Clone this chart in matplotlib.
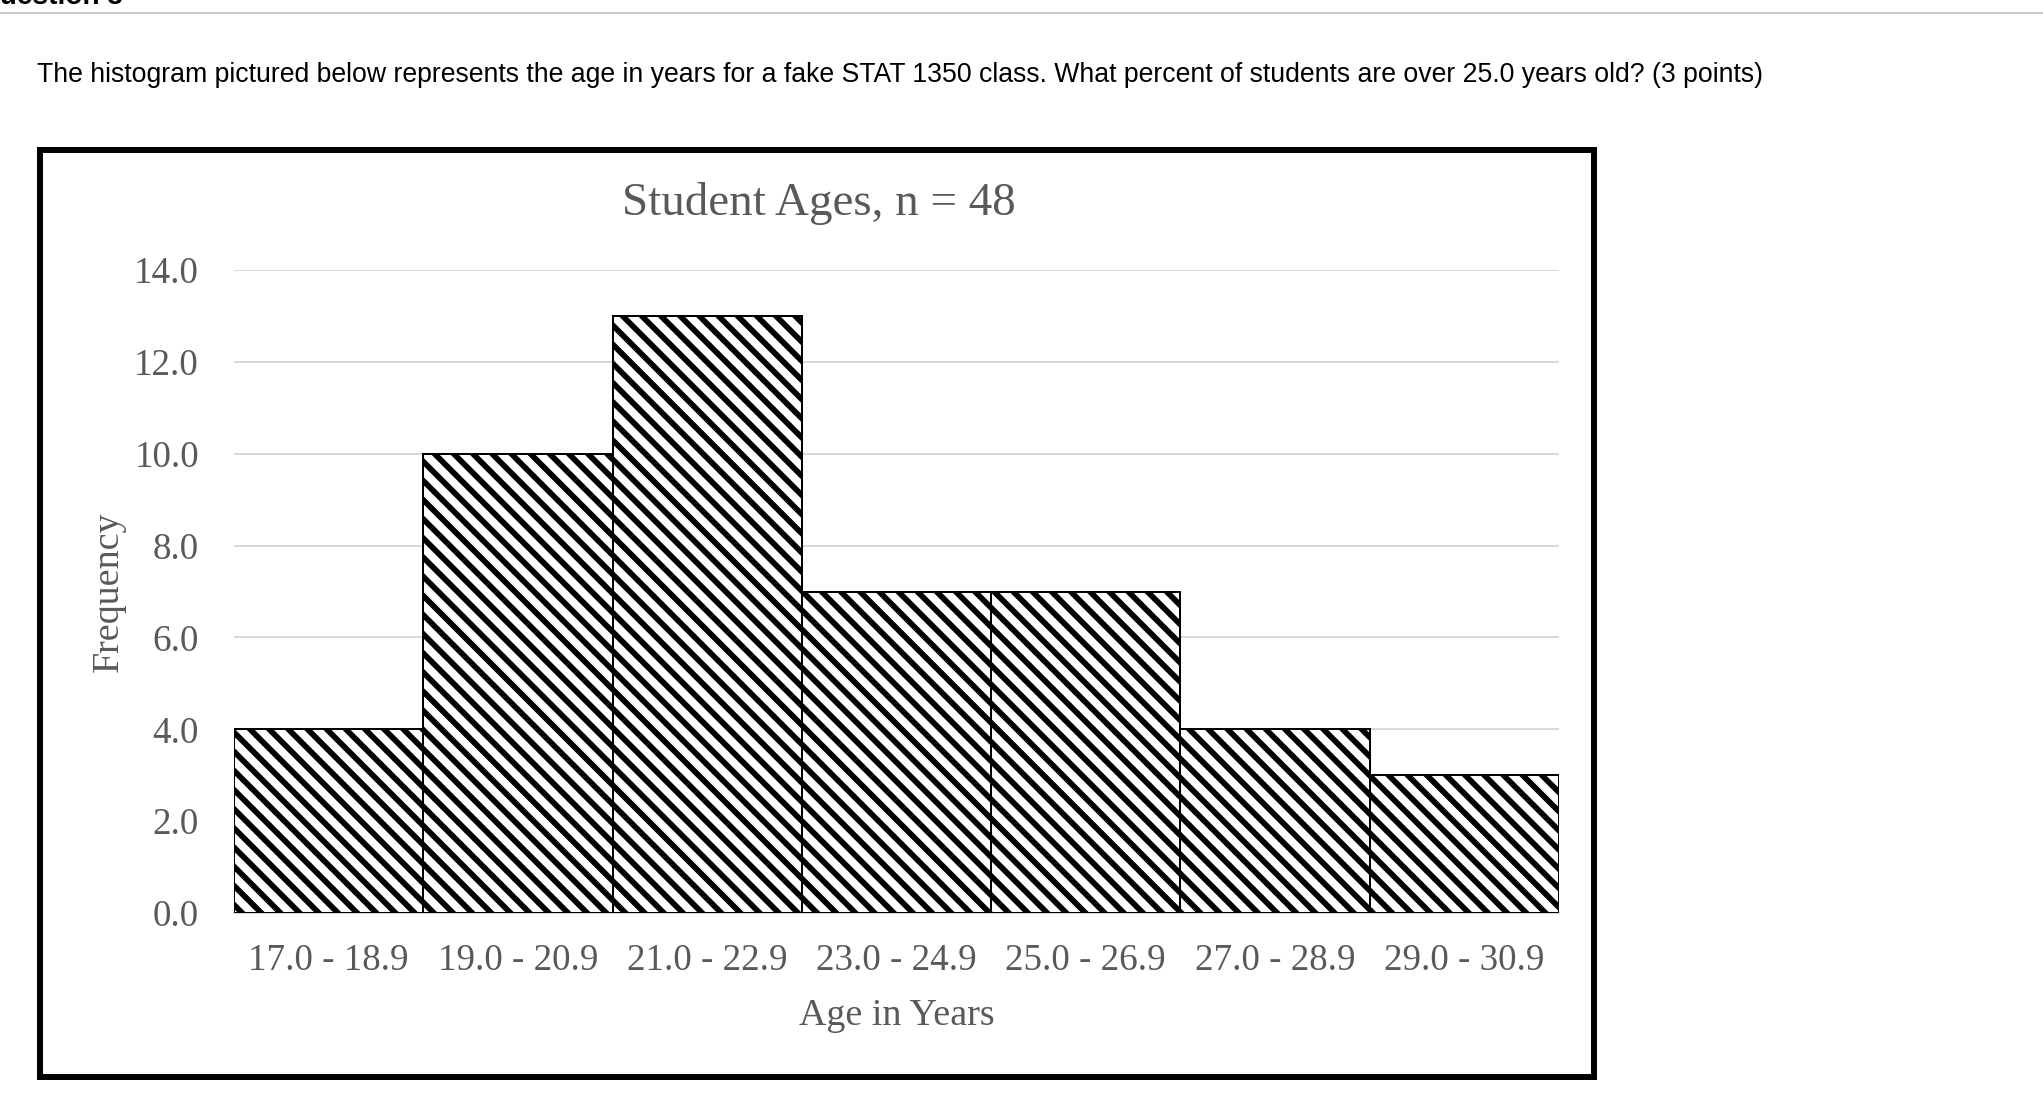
import matplotlib
matplotlib.use("Agg")
import matplotlib.pyplot as plt
from matplotlib.patches import Rectangle
from matplotlib.lines import Line2D

# histogram data
age_bins = ['17.0 - 18.9', '19.0 - 20.9', '21.0 - 22.9', '23.0 - 24.9',
            '25.0 - 26.9', '27.0 - 28.9', '29.0 - 30.9']
frequency = [4, 10, 13, 7, 7, 4, 3]
y_ticks = [0, 2, 4, 6, 8, 10, 12, 14]

question = ("The histogram pictured below represents the age in years for a fake "
            "STAT 1350 class. What percent of students are over 25.0 years old? (3 points)")

W, H, DPI = 2044, 1094, 115
PT = 72.0 / DPI  # points per pixel

plt.rcParams['hatch.linewidth'] = 3.6
gray = '#595959'
serif = 'Liberation Serif'

fig = plt.figure(figsize=(W / DPI, H / DPI), dpi=DPI)
fig.patch.set_facecolor('white')


def fx(px):
    return px / W


def fy(py):
    return 1 - py / H


# page header bits
fig.text(fx(-22), fy(4), 'Question 3', family='Liberation Sans', weight='bold',
         fontsize=28 * PT, color='black', va='baseline', ha='left')
fig.add_artist(Line2D([0, 1], [fy(13), fy(13)], color='#c8c8c8', lw=2 * PT))
fig.text(fx(37), fy(82), question, family='Liberation Sans', fontsize=26.6 * PT,
         color='black', va='baseline', ha='left')

# frame around the chart
fig.add_artist(Rectangle((fx(40), fy(1077)), fx(1594) - fx(40), fy(150) - fy(1077),
                         transform=fig.transFigure, fill=False, ec='black',
                         lw=6 * PT))

ax = fig.add_axes([fx(234), fy(913), fx(1559) - fx(234), fy(270) - fy(913)])
x = range(len(age_bins))
ax.bar(x, frequency, width=1.0, color='white', edgecolor='black',
       linewidth=2 * PT, hatch='\\\\', zorder=3)

ax.set_xlim(-0.5, len(age_bins) - 0.5)
ax.set_ylim(0, 14)
ax.set_yticks(y_ticks)
ax.set_yticklabels(['%.1f' % v for v in y_ticks])
ax.set_xticks(list(x))
ax.set_xticklabels(age_bins)
ax.tick_params(length=0, labelsize=37 * PT, labelcolor=gray)
ax.tick_params(axis='y', pad=35 * PT)
ax.tick_params(axis='x', pad=31 * PT)
for lab in ax.get_xticklabels() + ax.get_yticklabels():
    lab.set_family(serif)

ax.grid(axis='y', color='#d9d9d9', lw=2 * PT, zorder=0)
ax.set_axisbelow(True)
for side in ['top', 'right', 'left']:
    ax.spines[side].set_visible(False)
ax.spines['bottom'].set_color('#d9d9d9')
ax.spines['bottom'].set_linewidth(2 * PT)

ax.set_xlabel('Age in Years', family=serif, fontsize=38 * PT, color=gray, labelpad=20 * PT)
ax.set_ylabel('Frequency', family=serif, fontsize=38 * PT, color=gray, labelpad=8 * PT)

fig.text(fx(819), fy(215), 'Student Ages, n = 48', family=serif, fontsize=47 * PT,
         color=gray, ha='center', va='baseline')

fig.savefig('out.png', dpi=DPI)
